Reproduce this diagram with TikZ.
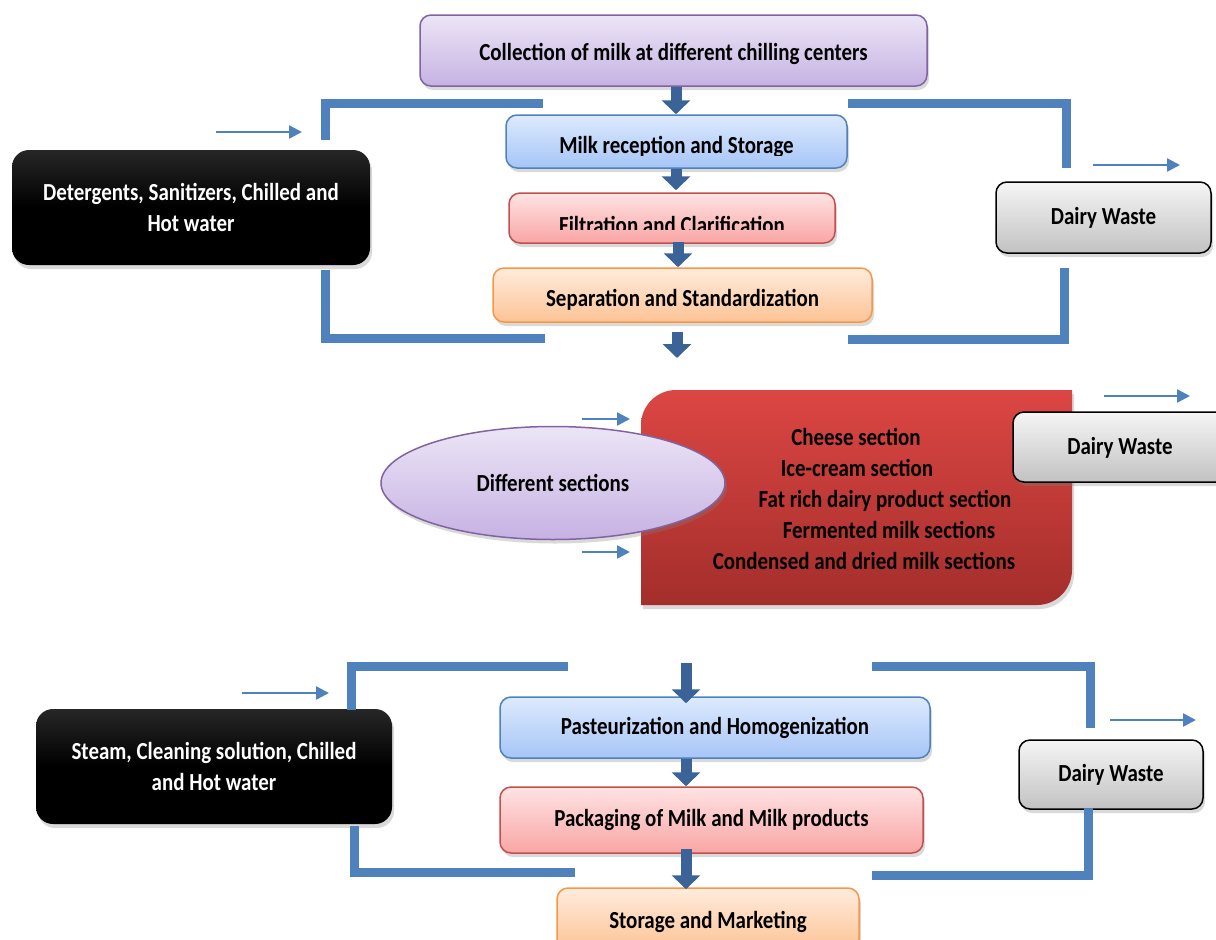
\documentclass[tikz,border=0pt]{standalone}
\usepackage{fontspec}
\setmainfont{Carlito}[FakeStretch=0.855]
\usepackage{tikz}
\usetikzlibrary{arrows.meta,shapes.geometric,shadows}

\definecolor{brk}{HTML}{4F81BD}
\definecolor{flowblue}{HTML}{3B6397}
\definecolor{ptop}{HTML}{ECE5F6}
\definecolor{pbot}{HTML}{C6B2E3}
\definecolor{pline}{HTML}{8064A2}
\definecolor{btop}{HTML}{DDEAFD}
\definecolor{bbot}{HTML}{A6C5F7}
\definecolor{bline}{HTML}{4F81BD}
\definecolor{rtop}{HTML}{FFE3E3}
\definecolor{rbot}{HTML}{F9A5A5}
\definecolor{rline}{HTML}{C0504D}
\definecolor{otop}{HTML}{FFECDD}
\definecolor{obot}{HTML}{FCC395}
\definecolor{oline}{HTML}{F79646}
\definecolor{gtop}{HTML}{F5F5F5}
\definecolor{gbot}{HTML}{C2C2C2}
\definecolor{secttop}{HTML}{DC4643}
\definecolor{sectbot}{HTML}{A32E2B}

\begin{document}
\begin{tikzpicture}[x=1pt, y=-1pt, >={Triangle[width=13pt,length=13pt]}]
\tikzstyle{every node}=[font=\fontsize{24.5}{31}\selectfont\bfseries, inner sep=0pt];
\tikzstyle{box}=[draw, line width=1.5pt, rounded corners=11pt,
  drop shadow={opacity=0.3, shadow xshift=2pt, shadow yshift=-4pt}];
\tikzstyle{purplebox}=[box, draw=pline, top color=ptop, bottom color=pbot];
\tikzstyle{bluebox}=[box, draw=bline, top color=btop, bottom color=bbot];
\tikzstyle{pinkbox}=[box, draw=rline, top color=rtop, bottom color=rbot];
\tikzstyle{orangebox}=[box, draw=oline, top color=otop, bottom color=obot];
\tikzstyle{wastebox}=[box, draw=black, top color=gtop, bottom color=gbot];
\tikzstyle{utilbox}=[rounded corners=17pt, top color=black!85, bottom color=black,
  middle color=black, text=white, align=center,
  drop shadow={opacity=0.3, shadow xshift=2pt, shadow yshift=-4pt}];
\tikzstyle{flow}=[line width=11pt, draw=flowblue, -{Triangle[width=28pt,length=14pt]}];
\tikzstyle{feed}=[line width=2.5pt, draw=brk, ->];
\tikzstyle{bracket}=[line width=9pt, draw=brk];
\useasboundingbox (0,0) rectangle (1216,940);
\clip (0,0) rectangle (1216,940);
\coordinate (axis) at (676,0);
\coordinate (axisb) at (686,0);

% upper block
\node[purplebox, minimum width=507pt, minimum height=71pt] (coll) at (673.5,50.5) {};
\node[anchor=base] (coll-t) at (673.5,60) {Collection of milk at different chilling centers};
\node[bluebox, minimum width=341pt, minimum height=53pt] (recep) at (676.5,141.5) {};
\node[pinkbox, minimum width=326pt, minimum height=50pt] (filt) at (672,218) {};
\node[orangebox, minimum width=379pt, minimum height=54pt] (sep) at (682.5,295) {};
\begin{scope}
\clip (506,115) rectangle (847,155.5);
\node[anchor=base] (recep-t) at (676.5,153) {Milk reception and Storage};
\end{scope}
\begin{scope}
\clip (509,193) rectangle (835,229);
\node[anchor=base] (filt-t) at (672,233) {Filtration and Clarification};
\end{scope}
\begin{scope}
\clip (493,268) rectangle (872,309);
\node[anchor=base] (sep-t) at (682.5,306) {Separation and Standardization};
\end{scope}
\node[utilbox, minimum width=358pt, minimum height=115pt] (det) at (191,207.5)
  {Detergents, Sanitizers, Chilled and\\Hot water};
\node[wastebox, minimum width=215pt, minimum height=71pt] (waste1) at (1103.5,217.5) {Dairy Waste};
\draw[flow] (coll.south -| axis) -- (recep.north -| axis);
\draw[flow] (recep.south -| axis) -- ([yshift=2pt]filt.north -| axis);
\draw[flow] ([yshift=2pt]filt.south -| 678,0) -- (sep.north -| 678,0);
\coordinate (out1) at (677,332);
\coordinate (in2) at (677,358);
\draw[flow] (out1) -- (in2);
\draw[bracket] (543,103) -- (325,103) -- (325,140);
\draw[bracket] (325,270) -- (325,338) -- (545,338);
\draw[bracket] (848,103) -- (1066,103) -- (1066,168);
\draw[bracket] (1064,268) -- (1064,339) -- (848,339);
\draw[feed] (216,132) -- (302,132);
\draw[feed] (1093,165) -- (1180,165);

% sections
\path[top color=secttop, bottom color=sectbot,
  drop shadow={opacity=0.3, shadow xshift=2pt, shadow yshift=-4pt}]
  (641,605) -- (641,425) .. controls (641,405.7) and (656.7,390) .. (676,390)
  -- (1072,390) -- (1072,570) .. controls (1072,589.3) and (1056.3,605) .. (1037,605) -- cycle;
\node[anchor=base] (s1) at (856,445) {Cheese section};
\node[anchor=base] (s2) at (857,476) {Ice-cream section};
\node[anchor=base] (s3) at (885,507) {Fat rich dairy product section};
\node[anchor=base] (s4) at (889,538) {Fermented milk sections};
\node[anchor=base] (s5) at (864,569) {Condensed and dried milk sections};
\node[ellipse, draw=pline, line width=1.5pt, top color=ptop, bottom color=pbot,
  minimum width=344pt, minimum height=113pt,
  drop shadow={opacity=0.3, shadow xshift=2pt, shadow yshift=-4pt}] (diff) at (553,483) {Different sections};
\node[wastebox, minimum width=214pt, minimum height=70pt] (waste2) at (1120,447) {};
\node (waste2-t) at (1120,448) {Dairy Waste};
\draw[feed] (582,419) -- (630,419);
\draw[feed] (582,552) -- (630,552);
\draw[feed] (1104,396) -- (1190,396);

% lower block
\node[bluebox, minimum width=430pt, minimum height=61pt] (past) at (715,727.5) {Pasteurization and Homogenization};
\node[pinkbox, minimum width=423pt, minimum height=66pt] (pack) at (711.5,820) {Packaging of Milk and Milk products};
\node[orangebox, minimum width=302pt, minimum height=62pt] (stor) at (708,919) {};
\node[anchor=base] (stor-t) at (708,928) {Storage and Marketing};
\node[utilbox, minimum width=356pt, minimum height=115pt] (steam) at (214,766.5)
  {Steam, Cleaning solution, Chilled\\and Hot water};
\node[wastebox, minimum width=184pt, minimum height=69pt] (waste3) at (1111,774.5) {Dairy Waste};
\coordinate (out2) at (686,663);
\draw[flow] (out2) -- ([yshift=-7pt]past.north -| axisb);
\draw[flow] (past.south -| axisb) -- (pack.north -| axisb);
\draw[flow] ([yshift=5pt]pack.south -| axisb) -- ([yshift=-2pt]stor.north -| axisb);
\draw[bracket] (568,666) -- (351,666) -- (351,710);
\draw[bracket] (354,826) -- (354,872) -- (575,872);
\draw[bracket] (872,666) -- (1090,666) -- (1090,728);
\draw[bracket] (1088,808) -- (1088,875) -- (872,875);
\draw[feed] (242,693) -- (329,693);
\draw[feed] (1110,720) -- (1196,720);
\end{tikzpicture}
\end{document}
